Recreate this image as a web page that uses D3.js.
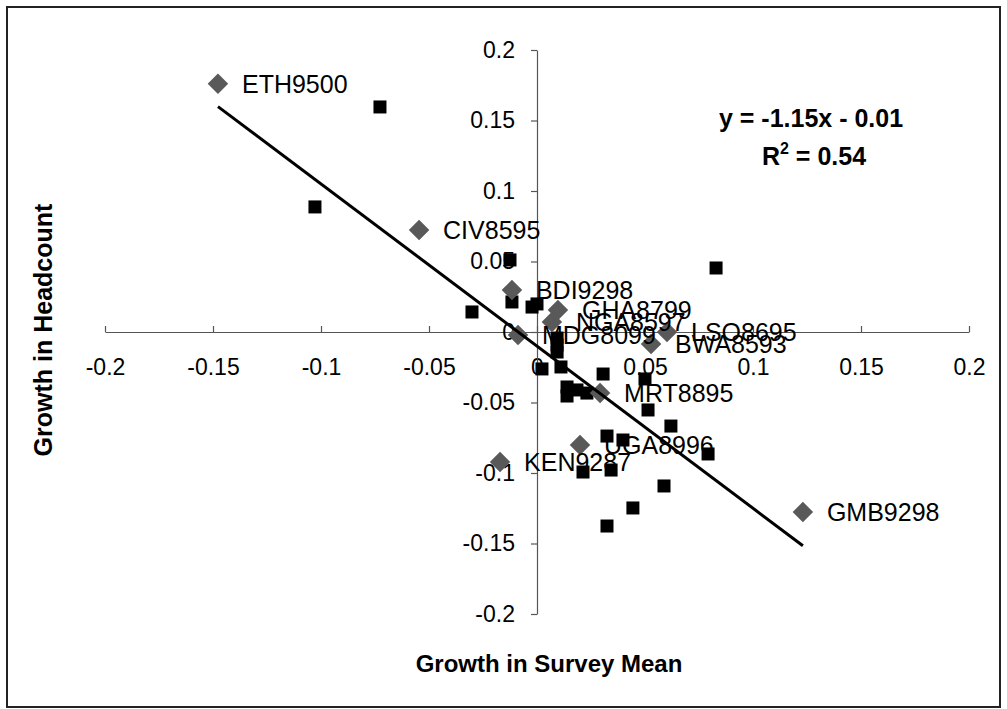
<!DOCTYPE html>
<html>
<head>
<meta charset="utf-8">
<script src="https://cdn.jsdelivr.net/npm/d3@7"></script>
<style>
  body { margin: 0; background: #fff; }
  svg text { font-family: Arial, "Liberation Sans", sans-serif; }
</style>
</head>
<body>
<svg id="chart"></svg>
<script>
// labelled countries (grey diamonds)
var labelNames = ["ETH9500", "CIV8595", "BDI9298", "GHA8799", "NGA8597", "MDG8099",
                  "LSO8695", "BWA8593", "MRT8895", "UGA8996", "KEN9287", "GMB9298"];
var labelX = [-0.1477, -0.0546, -0.0116, 0.0097, 0.0069, -0.0088,
              0.0602, 0.0528, 0.0292, 0.0199, -0.0171, 0.1231];
var labelY = [0.176, 0.0723, 0.0298, 0.0156, 0.0071, -0.0021,
              0.0, -0.0085, -0.0433, -0.0801, -0.0922, -0.1277];

// all other surveys (black squares)
var otherX = [-0.0727, -0.1028, -0.0301, -0.0125, 0.0829, -0.0116, -0.0023, 0.0,
              0.0093, 0.0093, 0.0093, 0.0023, 0.0111, 0.0306, 0.05, 0.0139,
              0.0139, 0.0185, 0.0231, 0.0514, 0.062, 0.0324, 0.0398, 0.0792,
              0.0213, 0.0343, 0.0588, 0.0444, 0.0324];
var otherY = [0.1596, 0.0887, 0.0142, 0.0511, 0.0454, 0.0213, 0.0177, 0.0199,
              -0.0043, -0.0092, -0.0142, -0.0262, -0.0248, -0.0298, -0.0333, -0.039,
              -0.0454, -0.0411, -0.0433, -0.0553, -0.0667, -0.0738, -0.0766, -0.0865,
              -0.0993, -0.0979, -0.1092, -0.1248, -0.1376];

// fitted trend line as printed on the chart
var slope = -1.15, intercept = -0.01, rSquared = 0.54;

var xTicks = [-0.2, -0.15, -0.1, -0.05, 0, 0.05, 0.1, 0.15, 0.2];
var yTicks = [-0.2, -0.15, -0.1, -0.05, 0, 0.05, 0.1, 0.15, 0.2];

var svgWidth = 1007, svgHeight = 709;

var svg = d3.select('#chart')
    .attr('width', svgWidth)
    .attr('height', svgHeight);

// chart frame
svg.append('rect')
    .attr('x', 7).attr('y', 7)
    .attr('width', 993).attr('height', 700)
    .attr('fill', '#fff')
    .attr('stroke', '#222')
    .attr('stroke-width', 2);

var x = d3.scaleLinear().domain([-0.2, 0.2]).range([105, 969]);
var y = d3.scaleLinear().domain([-0.2, 0.2]).range([614, 50]);

// axes crossing at zero
var xAxis = d3.axisBottom(x)
    .tickValues(xTicks)
    .tickFormat(function (d) { return String(d); })
    .tickSizeInner(-6)
    .tickSizeOuter(0)
    .tickPadding(27);

var yAxis = d3.axisLeft(y)
    .tickValues(yTicks)
    .tickFormat(function (d) { return String(d); })
    .tickSizeInner(6)
    .tickSizeOuter(0)
    .tickPadding(16);

var gx = svg.append('g')
    .attr('transform', 'translate(0,' + y(0) + ')')
    .call(xAxis);

var gy = svg.append('g')
    .attr('transform', 'translate(' + x(0) + ',0)')
    .call(yAxis);

[gx, gy].forEach(function (g) {
    g.selectAll('path, line').attr('stroke', '#555').attr('stroke-width', 1.2);
    g.selectAll('text')
        .attr('fill', '#000')
        .style('font-size', '23px')
        .style('font-family', 'Arial, "Liberation Sans", sans-serif');
});

// squares
var squareSize = 13;
svg.append('g').selectAll('rect')
    .data(d3.range(otherX.length))
    .enter()
    .append('rect')
    .attr('x', function (i) { return x(otherX[i]) - squareSize / 2; })
    .attr('y', function (i) { return y(otherY[i]) - squareSize / 2; })
    .attr('width', squareSize)
    .attr('height', squareSize)
    .attr('fill', '#000');

// diamonds
var diamond = d3.symbol().type(d3.symbolSquare).size(210);
svg.append('g').selectAll('path')
    .data(d3.range(labelX.length))
    .enter()
    .append('path')
    .attr('d', diamond)
    .attr('transform', function (i) {
        return 'translate(' + x(labelX[i]) + ',' + y(labelY[i]) + ') rotate(45)';
    })
    .attr('fill', '#595959');

// trend line over the data range
var allX = labelX.concat(otherX);
var xExt = d3.extent(allX);
svg.append('line')
    .attr('x1', x(xExt[0])).attr('y1', y(slope * xExt[0] + intercept))
    .attr('x2', x(xExt[1])).attr('y2', y(slope * xExt[1] + intercept))
    .attr('stroke', '#000')
    .attr('stroke-width', 3);

// data labels
svg.append('g').selectAll('text')
    .data(d3.range(labelNames.length))
    .enter()
    .append('text')
    .attr('x', function (i) { return x(labelX[i]) + 24; })
    .attr('y', function (i) { return y(labelY[i]); })
    .attr('dy', '0.35em')
    .style('font-size', '25px')
    .text(function (i) { return labelNames[i]; });

// equation
var eq = svg.append('g').style('font-weight', 'bold').style('font-size', '25px')
    .attr('text-anchor', 'middle');
eq.append('text')
    .attr('x', 811).attr('y', 127)
    .text('y = ' + slope + 'x  - ' + Math.abs(intercept).toFixed(2));
var r2 = eq.append('text').attr('x', 814).attr('y', 165);
r2.append('tspan').text('R');
r2.append('tspan').attr('dy', -11).style('font-size', '16px').text('2');
r2.append('tspan').attr('dy', 11).text(' = ' + rSquared);

// axis titles
svg.append('text')
    .attr('x', 549).attr('y', 672)
    .attr('text-anchor', 'middle')
    .style('font-weight', 'bold')
    .style('font-size', '24px')
    .text('Growth in Survey Mean');

svg.append('text')
    .attr('transform', 'translate(52,330) rotate(-90)')
    .attr('text-anchor', 'middle')
    .style('font-weight', 'bold')
    .style('font-size', '25px')
    .text('Growth in Headcount');
</script>
</body>
</html>
